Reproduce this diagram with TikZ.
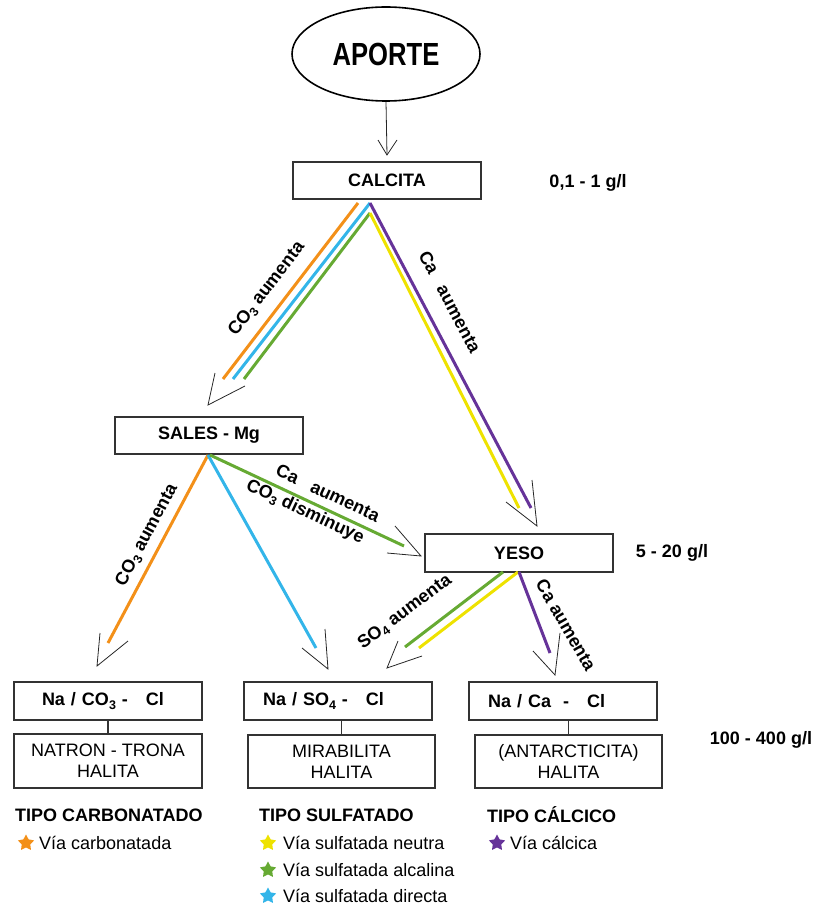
\documentclass[tikz,border=0pt]{standalone}
\usepackage{fontspec}
\setmainfont{Liberation Sans}
\newfontfamily\narrowfont[FakeStretch=0.8]{Liberation Sans}
\usetikzlibrary{shapes.geometric,calc}
\definecolor{cOr}{HTML}{F39019}
\definecolor{cBl}{HTML}{33B5E9}
\definecolor{cGr}{HTML}{66AA33}
\definecolor{cYe}{HTML}{EEE200}
\definecolor{cPu}{HTML}{663399}
\newcommand\lowidx[1]{\raisebox{-0.35ex}{\fontsize{12.5}{12.5}\selectfont #1}}
\tikzset{
  box/.style={draw=black!80, line width=1.1pt, fill=white, rectangle, inner sep=0pt},
  colline/.style={line width=3pt},
  vtip/.style={draw=black!85, line width=0.8pt},
  lbl/.style={font=\bfseries\fontsize{18}{21}\selectfont, inner sep=0pt},
  reg/.style={font=\fontsize{18}{21}\selectfont, inner sep=0pt},
  legstar/.style={star, star points=5, star point ratio=1.9, minimum size=17pt, inner sep=0pt, draw=none},
}
\begin{document}
\begin{tikzpicture}[x=1pt,y=-1pt]
\useasboundingbox (0,0) rectangle (817,909);
% top
\node[ellipse, draw=black, line width=1.6pt, minimum width=188pt, minimum height=94pt, inner sep=0pt] (aporte) at (386,54) {\narrowfont\bfseries\fontsize{32}{32}\selectfont APORTE};
\node[box, minimum width=188pt, minimum height=37pt, font=\bfseries\fontsize{18}{21}\selectfont] (calcita) at (387,180.5) {CALCITA};
\node[lbl] (g1) at (588,183) {0,1 - 1 g/l};
\coordinate (tipC) at (387,155);
\draw[vtip] (aporte.south) -- (tipC);
\draw[vtip] ($(tipC)+(-9,-15)$) -- (tipC) -- ++(10,-15);

\node[box, minimum width=188pt, minimum height=37pt, font=\bfseries\fontsize{18}{21}\selectfont] (sales) at (209,435.5) {SALES - Mg};
\node[box, minimum width=188pt, minimum height=38pt, font=\bfseries\fontsize{18}{21}\selectfont] (yeso) at (519,553) {YESO};
\node[lbl] (g2) at (672,553) {5 - 20 g/l};

% bottom boxes
\node[box, minimum width=188pt, minimum height=38pt, text width=132pt, align=left, inner xsep=28pt, font=\bfseries\fontsize{18}{21}\selectfont] (b1) at (108,701) {Na / CO\lowidx{3} -~~~Cl};
\node[box, minimum width=188pt, minimum height=54pt, align=center, font=\fontsize{18}{21}\selectfont] (b2) at (108,761) {NATRON - TRONA\\HALITA};
\node[box, minimum width=188pt, minimum height=38pt, text width=150pt, align=left, inner xsep=19pt, font=\bfseries\fontsize{18}{21}\selectfont] (b3) at (338,701) {Na / SO\lowidx{4} -~~~Cl};
\node[box, minimum width=187pt, minimum height=53pt, align=center, font=\fontsize{18}{21}\selectfont] (b4) at (341.5,761.5) {MIRABILITA\\HALITA};
\node[box, minimum width=188pt, minimum height=38pt, text width=150pt, align=left, inner xsep=19pt, font=\bfseries\fontsize{18}{21}\selectfont] (b5) at (563,701) {Na / Ca~~-~~~Cl};
\node[box, minimum width=187pt, minimum height=53pt, align=center, font=\fontsize{18}{21}\selectfont] (b6) at (568.5,761.5) {(ANTARCTICITA)\\HALITA};
\node[lbl] (g3) at (761,740) {100 - 400 g/l};
\draw[line width=1.1pt, black!80] (b1.south) -- (b2.north);
\draw[line width=1.1pt, black!80] (b4.north) -- (b4.north |- b3.south);
\draw[line width=1.1pt, black!80] (b6.north) -- (b6.north |- b5.south);

% coloured paths CALCITA -> SALES / YESO
\coordinate (c1) at (358,203); \coordinate (c2) at (370,203); \coordinate (c3) at (370,213);
\coordinate (s1) at (223,379); \coordinate (s2) at (233,379); \coordinate (s3) at (244,379);
\coordinate (y1) at (531,508); \coordinate (y2) at (519,508);
\draw[colline, cOr] (c1) -- (s1);
\draw[colline, cBl] (c2) -- (s2);
\draw[colline, cGr] (c3) -- (s3);
\draw[colline, cPu] (c2) -- (y1);
\draw[colline, cYe] (c3) -- (y2);
\coordinate (tipS) at (208,405);
\draw[vtip] (215,373) -- (tipS) -- (245,386);
\coordinate (tipY) at (537,526);
\draw[vtip] (506,502) -- (tipY) -- (532,480);

% SALES -> ...
\coordinate (sa1) at (208,455); \coordinate (sa2) at (210,455);
\coordinate (e1) at (108,643); \coordinate (e2) at (316,648); \coordinate (e3) at (404,546);
\draw[colline, cOr] (sa1) -- (e1);
\draw[colline, cBl] (sa1) -- (e2);
\draw[colline, cGr] (sa2) -- (e3);
\coordinate (tip1) at (97,666);
\draw[vtip] (100,633) -- (tip1) -- (128,641);
\coordinate (tip2) at (328,669);
\draw[vtip] (302,648) -- (tip2) -- (325,629);
\coordinate (tip3) at (421,556);
\draw[vtip] (395,526) -- (tip3) -- (387,553);

% YESO -> ...
\coordinate (ye1) at (503,572); \coordinate (ye2) at (518,572); \coordinate (ye3) at (519,572);
\coordinate (f1) at (405,647); \coordinate (f2) at (419,648); \coordinate (f3) at (550,653);
\draw[colline, cGr] (ye1) -- (f1);
\draw[colline, cYe] (ye2) -- (f2);
\draw[colline, cPu] (ye3) -- (f3);
\coordinate (tip4) at (387,668);
\draw[vtip] (398,641) -- (tip4) -- (422,656);
\coordinate (tip5) at (555,675);
\draw[vtip] (533,651) -- (tip5) -- (560,633);

% labels
\node[lbl, rotate=52.5] (l1) at (267,289) {CO\lowidx{3} aumenta};
\node[lbl, rotate=-62] (l2) at (450,302) {Ca~~~aumenta};
\node[lbl, rotate=62] (l3) at (147,535) {CO\lowidx{3} aumenta};
\node[lbl, rotate=-25] (l4) at (328,493) {Ca~~~aumenta};
\node[lbl, rotate=-25] (l5) at (305,512) {CO\lowidx{3} disminuye};
\node[lbl, rotate=37] (l6) at (405,612) {SO\lowidx{4} aumenta};
\node[lbl, rotate=-60] (l7) at (566,625) {Ca aumenta};

% legend
\node[lbl, anchor=west] (t1) at (15,815) {TIPO CARBONATADO};
\node[lbl, anchor=west] (t2) at (259,815) {TIPO SULFATADO};
\node[lbl, anchor=west] (t3) at (487,815) {TIPO CÁLCICO};
\node[legstar, fill=cOr] (st1) at (26,843) {};
\node[reg, anchor=west] (v1) at (39,843) {Vía carbonatada};
\node[legstar, fill=cYe] (st2) at (268,843) {};
\node[reg, anchor=west] (v2) at (283,843) {Vía sulfatada neutra};
\node[legstar, fill=cGr] (st3) at (268,870) {};
\node[reg, anchor=west] (v3) at (283,870) {Vía sulfatada alcalina};
\node[legstar, fill=cBl] (st4) at (268,896) {};
\node[reg, anchor=west] (v4) at (283,896) {Vía sulfatada directa};
\node[legstar, fill=cPu] (st5) at (497,843) {};
\node[reg, anchor=west] (v5) at (510,843) {Vía cálcica};
\end{tikzpicture}
\end{document}
